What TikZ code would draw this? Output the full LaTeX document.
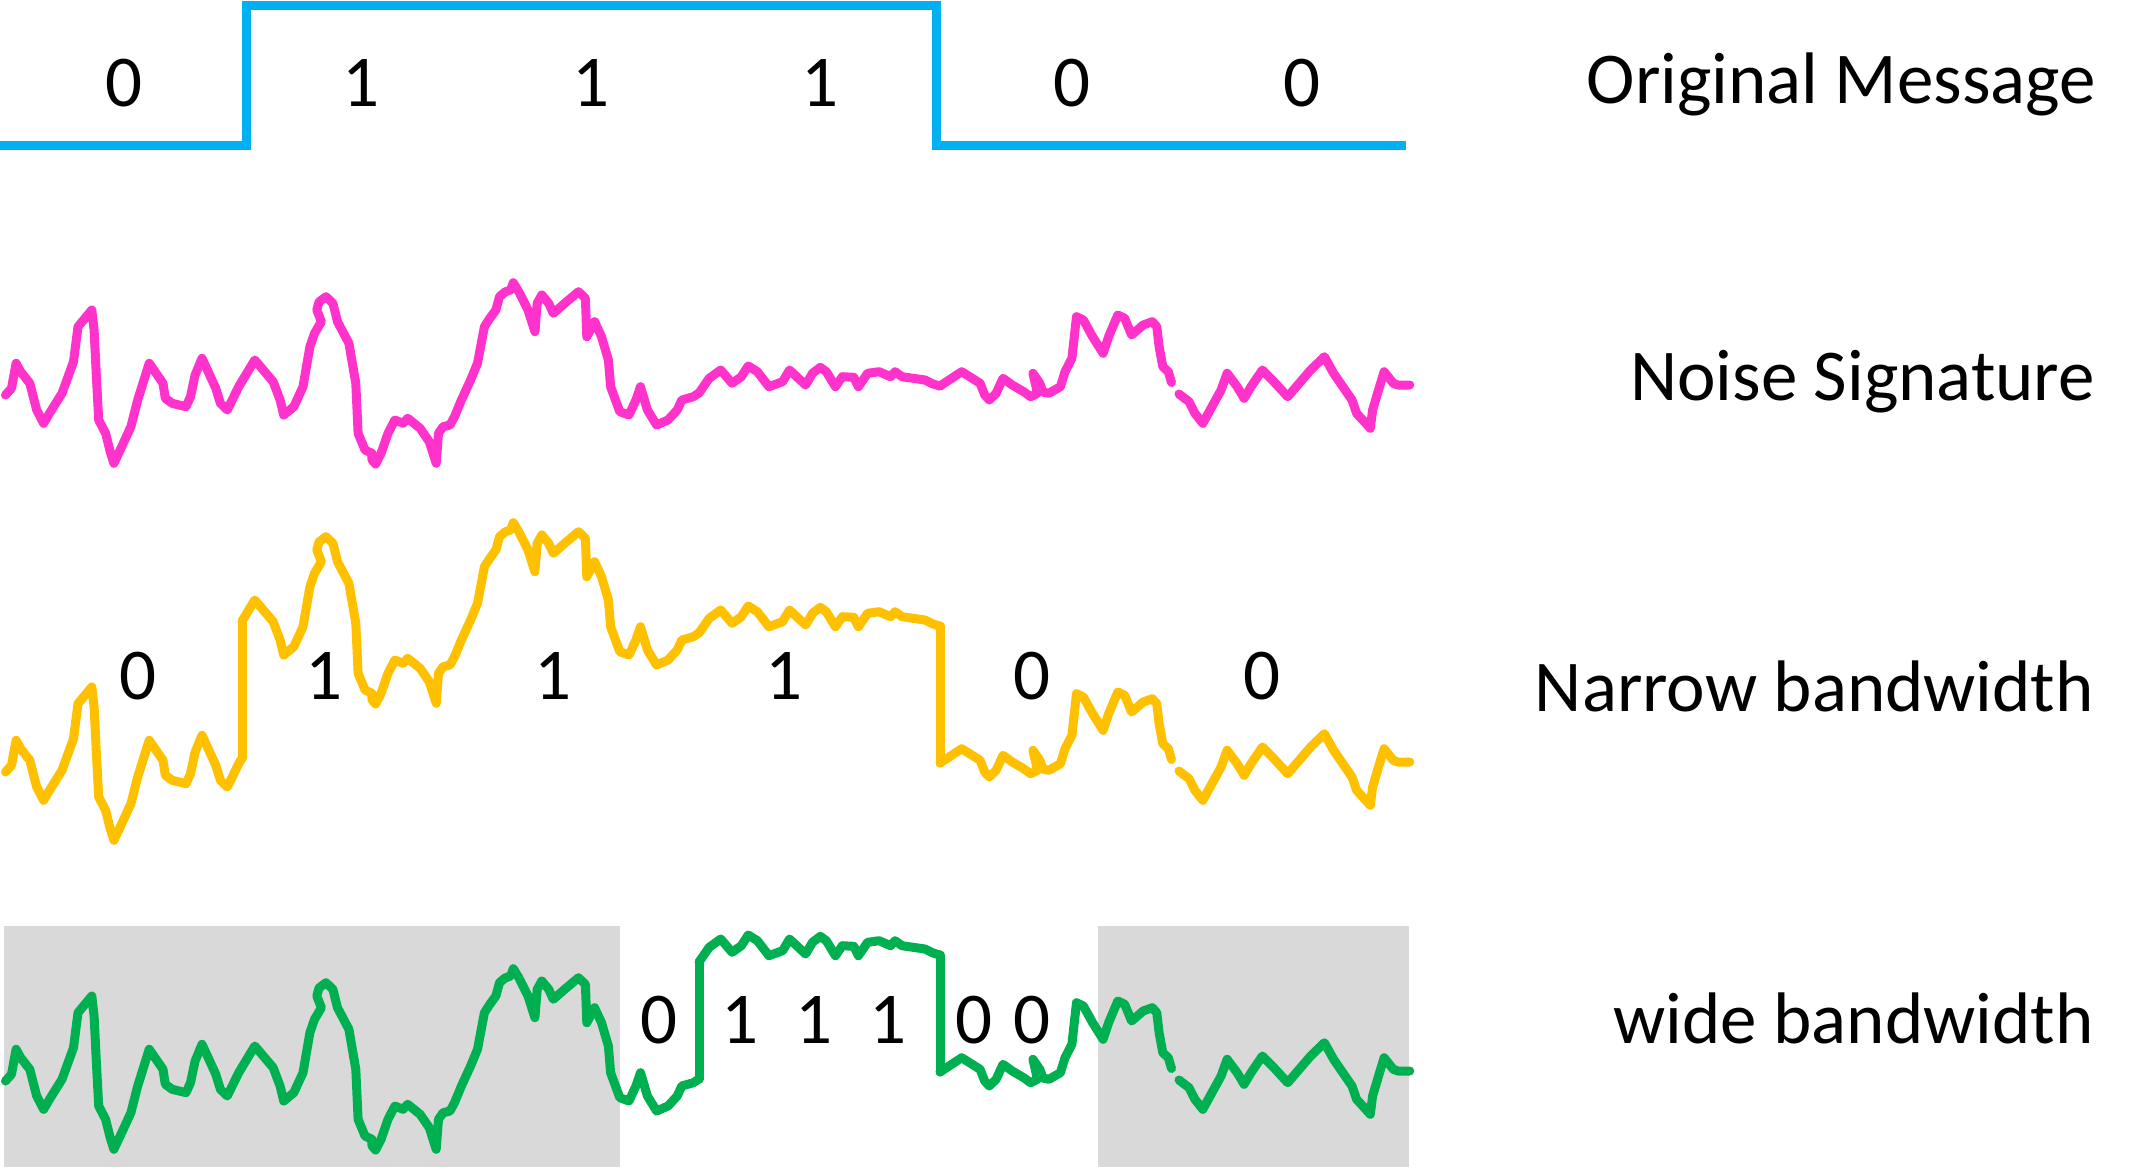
\documentclass[tikz,border=0pt]{standalone}
\usepackage{fontspec}
\setmainfont{Carlito}
\definecolor{msgblue}{HTML}{00B0F0}
\definecolor{noisepink}{HTML}{FF33CC}
\definecolor{narrowgold}{HTML}{FFC000}
\definecolor{widegreen}{HTML}{00B050}
\definecolor{bandgray}{HTML}{D9D9D9}
% noise signature, split where the signal level changes
\def\segA{(5.5,395) -- (11.5,388.3) -- (16.1,363.3) -- (20.7,371.7) -- (29.8,383.3) -- (36.7,410) -- (43.6,423.3) -- (50.5,411.7) -- (62,393.3) -- (73.5,361.7) -- (78,326.7) -- (91.8,310) -- (94.1,330) -- (96.4,376.7) -- (98.7,420) -- (105.6,433.3) -- (110.2,451.7) -- (113.9,463.3) -- (121.7,446.7) -- (130.9,426.7) -- (137.7,400) -- (149.2,363.3) -- (163,383.3) -- (165.3,398.3) -- (172.2,403.3) -- (186,406.7) -- (190.5,396.7) -- (195.1,375) -- (202,358.3) -- (208.9,373.3) -- (215.8,388.3) -- (220.4,403.3) -- (227.3,410) -- (238.7,386.7) -- (242,381.2)}
\def\segB{(242,381.2) -- (254.8,360) -- (273.2,381.7) -- (280.1,400) -- (283.7,415) -- (293.8,406.7) -- (303,386.7) -- (309.9,346.7) -- (314.5,333.3) -- (321.4,321.7) -- (316.8,310) -- (319,302) -- (326,296.7) -- (332.9,303.3) -- (337.5,321.7) -- (348.9,343.3) -- (355.8,383.3) -- (358.1,433.3) -- (365,450) -- (371.9,453.3) -- (372,460) -- (375.6,464) -- (381.1,453.3) -- (388,433.3) -- (394.9,420) -- (403.1,423.3) -- (407.7,418.3) -- (420.1,428.3) -- (429.3,441.7) -- (436.2,463.3) -- (438.5,433.3) -- (443.1,426.7) -- (450,425) -- (454.5,416.7) -- (461.4,400) -- (470.6,380) -- (477.5,363.3) -- (484.4,326.7) -- (490,318) -- (495.9,310) -- (499.5,296.7) -- (505,292) -- (510.6,290) -- (513.3,282.7) -- (518.8,291.7) -- (528,310) -- (534.9,331.7) -- (537.2,303.3) -- (541.8,295) -- (548.7,303.3) -- (553.3,313.3) -- (564.7,303.3) -- (578.5,291.7) -- (585.4,298.3) -- (586.8,336.7) -- (594.6,321.7) -- (601.5,336.7) -- (608.4,360) -- (610.6,386.7) -- (619.8,411.7) -- (629,415) -- (635.9,400) -- (640.5,386.7) -- (647.4,410) -- (656.6,425) -- (668,420) -- (677.2,410) -- (681.8,400) -- (693.3,396.7) -- (699,393)}
\def\segC{(699,393) -- (709.2,378.3) -- (720.7,370) -- (732.1,383.3) -- (741.3,376.7) -- (748.2,366) -- (757.4,371.7) -- (768.9,386.7) -- (782.6,381.7) -- (789.5,370) -- (805.6,385) -- (812.5,373.3) -- (820.3,367.3) -- (826.3,371.7) -- (835.4,386.7) -- (842.3,376.7) -- (853.8,377.3) -- (858.4,386.7) -- (867.6,373.3) -- (879.1,371.7) -- (890.5,376.7) -- (895.1,371.7) -- (902,376.7) -- (925,380) -- (933,384) -- (940,386)}
\def\segD{(940,386) -- (961.7,371.7) -- (980.1,383.3) -- (984.7,395) -- (989.3,400) -- (996.1,393.3) -- (1003,378.3) -- (1012.2,385) -- (1023.7,391.7) -- (1030.6,396.7) -- (1037.5,393.3) -- (1032.9,373.3) -- (1039.8,383.3) -- (1043,392) -- (1048.9,393.3) -- (1060.4,386.7) -- (1065,371.7) -- (1071.9,358.3) -- (1076.5,316.7) -- (1083.4,320) -- (1092.6,336.7) -- (1103.1,353.3) -- (1108.6,336.7) -- (1117.8,315) -- (1124.7,318.3) -- (1131.6,335) -- (1143.1,325) -- (1152.3,321.7) -- (1156.8,326.7) -- (1159.1,346.7) -- (1162.8,366.7) -- (1168.3,371.7) -- (1171.5,382.5)}
\def\segE{(1179,394) -- (1189,401.7) -- (1194.9,413.3) -- (1202.8,423.3) -- (1211.9,406.7) -- (1221.1,390) -- (1227.1,373.3) -- (1237.2,386.7) -- (1244.1,398.3) -- (1251,386.7) -- (1262.4,370) -- (1273.9,381.7) -- (1287.7,396.7) -- (1299.2,383.3) -- (1310.6,370) -- (1324.4,356.7) -- (1333.6,373.3) -- (1342.8,386.7) -- (1352,400) -- (1356.6,413.3) -- (1370.3,428.3) -- (1372.6,410) -- (1379.5,386.7) -- (1384.1,371.7) -- (1393.3,383.3) -- (1397.9,385) -- (1409.8,385)}
\begin{document}
\begin{tikzpicture}[x=1pt,y=-1pt,
  noise/.style={line width=9pt,line join=round,line cap=round},
  pinkline/.style={noise,draw=noisepink},
  goldline/.style={noise,draw=narrowgold},
  greenline/.style={noise,draw=widegreen},
  msgline/.style={line width=9pt,draw=msgblue,line join=miter,line cap=butt},
  txt/.style={inner sep=0pt,font=\fontsize{73pt}{80pt}\selectfont,text=black},
  lbl/.style={txt,anchor=base east},
  digit/.style={txt,anchor=base}]
\useasboundingbox (0,0) rectangle (2145,1173);

% gray bands of the wide bandwidth row
\fill[bandgray] (3.7,926) rectangle (620,1166.7);
\fill[bandgray] (1098,926) rectangle (1409,1166.7);

% original message
\draw[msgline] (0,145) -- (246,145) -- (246,5) -- (936,5) -- (936,145) -- (1405.5,145);

% noise signature
\draw[pinkline] \segA;
\draw[pinkline] \segB;
\draw[pinkline] \segC;
\draw[pinkline] \segD;
\draw[pinkline] \segE;

% narrow bandwidth
\begin{scope}[shift={(0,377)}]
  \draw[goldline] \segA;
  \draw[goldline] \segD;
  \draw[goldline] \segE;
\end{scope}
\begin{scope}[shift={(0,240)}]
  \draw[goldline] \segB;
  \draw[goldline] \segC;
\end{scope}
\draw[goldline] (242,758.2) -- (242,621.2);
\draw[goldline] (940,626) -- (940,763);

% wide bandwidth
\begin{scope}[shift={(0,686)}]
  \draw[greenline] \segA;
  \draw[greenline] \segB;
  \draw[greenline] \segD;
  \draw[greenline] \segE;
\end{scope}
\begin{scope}[shift={(0,569)}]
  \draw[greenline] \segC;
\end{scope}
\draw[greenline] (699,1079) -- (699,962);
\draw[greenline] (940,955) -- (940,1072);

% digits, original message
\node[digit] (m1) at (124,106) {0};
\node[digit] (m2) at (360.5,106) {1};
\node[digit] (m3) at (590.6,106) {1};
\node[digit] (m4) at (819.7,106) {1};
\node[digit] (m5) at (1071.6,106) {0};
\node[digit] (m6) at (1301.6,106) {0};

% digits, narrow bandwidth
\node[digit] (n1) at (137.7,699.3) {0};
\node[digit] (n2) at (323.7,699.3) {1};
\node[digit] (n3) at (553.3,699.3) {1};
\node[digit] (n4) at (783.6,699.3) {1};
\node[digit] (n5) at (1031.5,699.3) {0};
\node[digit] (n6) at (1262.4,699.3) {0};

% digits, wide bandwidth
\node[digit] (w1) at (658.6,1043.3) {0};
\node[digit] (w2) at (740.2,1043.3) {1};
\node[digit] (w3) at (814.4,1043.3) {1};
\node[digit] (w4) at (887.7,1043.3) {1};
\node[digit] (w5) at (974,1043.3) {0};
\node[digit] (w6) at (1031.5,1043.3) {0};

% row labels
\node[lbl] (lorig) at (2096,103) {Original Message};
\node[lbl] (lnoise) at (2095,400) {Noise Signature};
\node[lbl] (lnarrow) at (2094,711.7) {Narrow bandwidth};
\node[lbl] (lwide) at (2094,1043.3) {wide bandwidth};
\end{tikzpicture}
\end{document}
